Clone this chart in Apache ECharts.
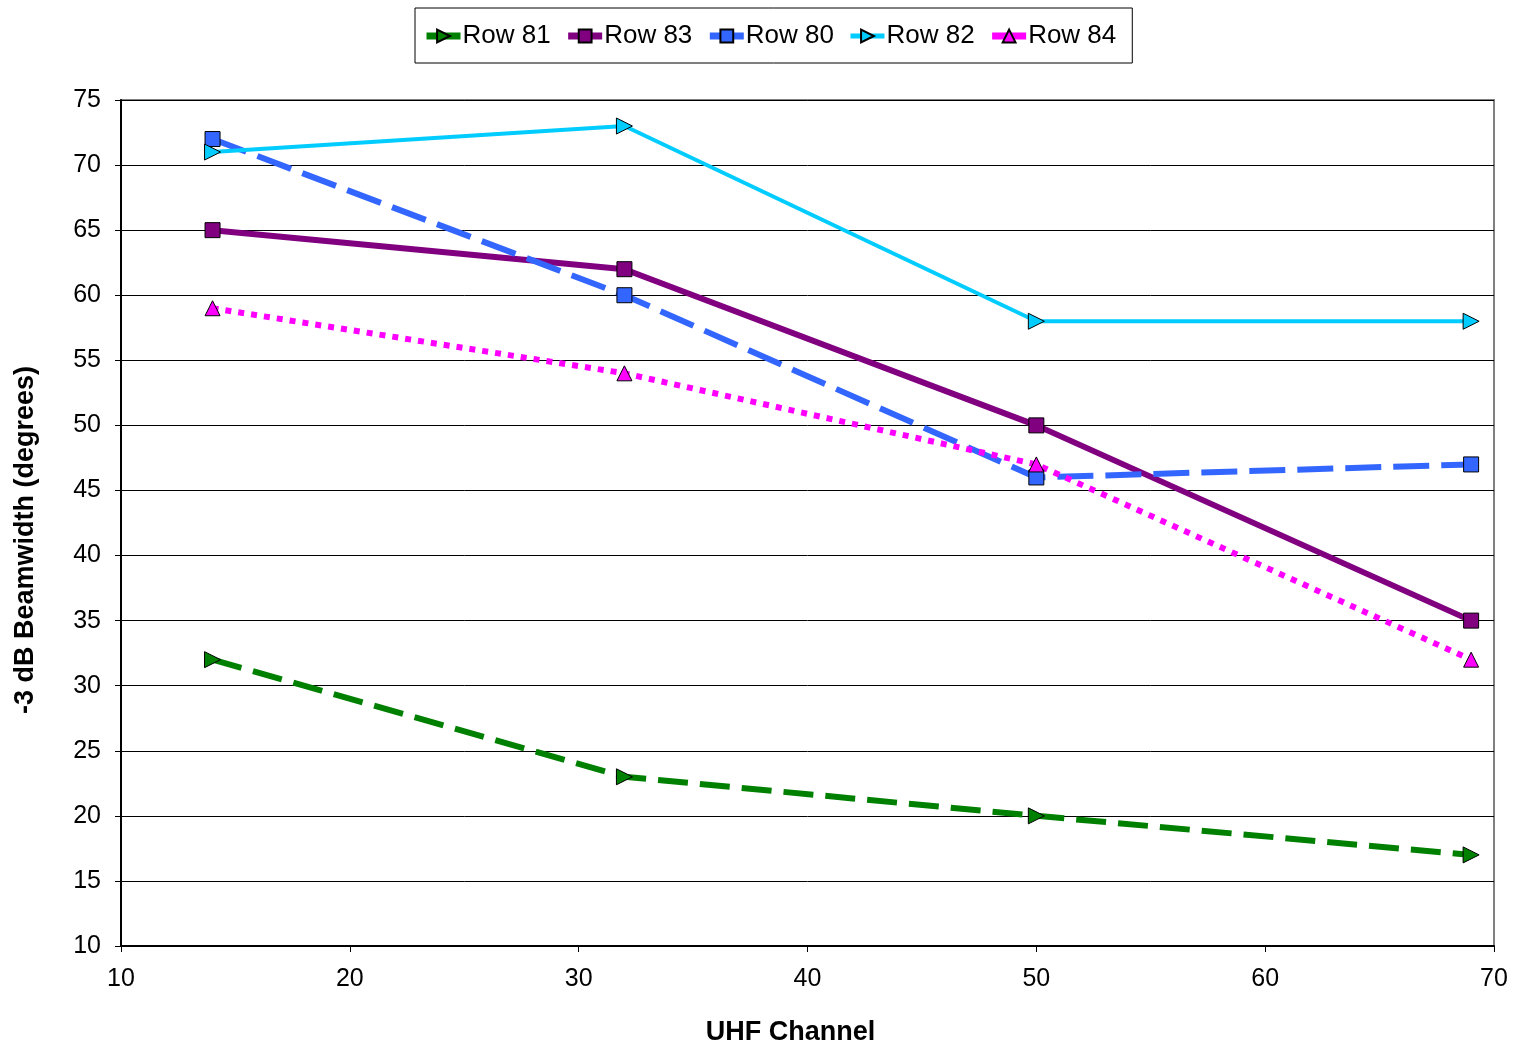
<!DOCTYPE html>
<html>
<head>
<meta charset="utf-8">
<script src="https://cdn.jsdelivr.net/npm/echarts@6/dist/echarts.min.js"></script>
<style>
  html, body { margin: 0; padding: 0; background: #fff; }
  #chart { width: 1515px; height: 1047px; }
</style>
</head>
<body>
<div id="chart"></div>
<script>
// UHF channels measured
const channels = [14, 32, 50, 69];

// -3 dB beamwidth (degrees) per row
const row81 = [32, 23, 20, 17];
const row83 = [65, 62, 50, 35];
const row80 = [72, 60, 46, 47];
const row82 = [71, 73, 58, 58];
const row84 = [59, 54, 47, 32];

const FONT = '"Liberation Sans", Arial, sans-serif';

function pairs(vals) {
  return channels.map((c, i) => [c, vals[i]]);
}

function lineSeries(name, vals, color, width, type, symbol, rotate, size) {
  return {
    name: name,
    type: 'line',
    data: pairs(vals),
    symbol: symbol,
    symbolSize: size,
    symbolRotate: rotate,
    lineStyle: { color: color, width: width, type: type, cap: 'butt' },
    itemStyle: { color: color, borderColor: '#000', borderWidth: 1 },
    emphasis: { disabled: true },
    z: 3
  };
}

function legendItem(name, width) {
  return { name: name, lineStyle: { width: width, type: 'solid' } };
}

const chart = echarts.init(document.getElementById('chart'), null, { renderer: 'canvas' });

chart.setOption({
  animation: false,
  backgroundColor: '#fff',
  grid: {
    left: 121, right: 21, top: 100, bottom: 101,
    outerBoundsMode: 'none',
    containLabel: false,
    show: true, borderColor: '#808080', borderWidth: 2, backgroundColor: 'transparent'
  },
  legend: {
    top: 8,
    left: 415,
    padding: [15, 16, 14, 8],
    borderColor: '#000',
    borderWidth: 1,
    itemGap: 14,
    itemWidth: 34,
    itemHeight: 16,
    textStyle: { fontFamily: FONT, fontSize: 26, color: '#000', padding: [0, 0, 0, -3] },
    data: [
      legendItem('Row 81', 7),
      legendItem('Row 83', 7),
      legendItem('Row 80', 7),
      legendItem('Row 82', 5),
      legendItem('Row 84', 7)
    ]
  },
  xAxis: {
    type: 'value',
    min: 10, max: 70, interval: 10,
    name: 'UHF Channel',
    nameLocation: 'middle',
    nameGap: 73,
    nameTextStyle: { fontFamily: FONT, fontSize: 27, fontWeight: 'bold', color: '#000', padding: [0, 34, 0, 0] },
    axisLine: { show: true, onZero: false, lineStyle: { color: '#000', width: 2 } },
    axisTick: { show: true, length: 6, lineStyle: { color: '#000', width: 1 } },
    axisLabel: { fontFamily: FONT, fontSize: 25, color: '#000', margin: 21 },
    splitLine: { show: false }
  },
  yAxis: {
    type: 'value',
    min: 10, max: 75, interval: 5,
    name: '-3 dB Beamwidth (degrees)',
    nameLocation: 'middle',
    nameGap: 82,
    nameTextStyle: { fontFamily: FONT, fontSize: 27, fontWeight: 'bold', color: '#000', padding: [0, 34, 0, 0] },
    axisLine: { show: true, lineStyle: { color: '#000', width: 2 } },
    axisTick: { show: true, length: 6, lineStyle: { color: '#000', width: 1 } },
    axisLabel: { fontFamily: FONT, fontSize: 25, color: '#000', margin: 20 },
    splitLine: { show: true, lineStyle: { color: '#000', width: 1 } }
  },
  series: [
    lineSeries('Row 81', row81, '#008000', 6, [30, 12], 'triangle', -90, 16),
    lineSeries('Row 83', row83, '#800080', 6, 'solid', 'rect', 0, 15),
    lineSeries('Row 80', row80, '#3366ff', 6, [36, 12], 'rect', 0, 15),
    lineSeries('Row 82', row82, '#00ccff', 4, 'solid', 'triangle', -90, 16),
    lineSeries('Row 84', row84, '#ff00ff', 6, [6, 7], 'triangle', 0, 15)
  ]
});
</script>
</body>
</html>
